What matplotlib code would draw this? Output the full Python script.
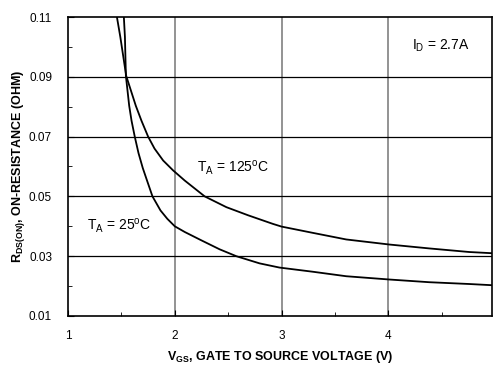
import matplotlib
matplotlib.use("Agg")
import matplotlib.pyplot as plt
from matplotlib.ticker import MultipleLocator, FixedLocator

plt.rcParams['font.family'] = ['Liberation Sans', 'DejaVu Sans']
plt.rcParams['mathtext.fontset'] = 'custom'
plt.rcParams['mathtext.rm'] = 'Liberation Sans'
plt.rcParams['mathtext.bf'] = 'Liberation Sans:bold'
plt.rcParams['mathtext.it'] = 'Liberation Sans:italic'

# Data
vgs_25 = [1.523, 1.533, 1.542, 1.573, 1.595, 1.625, 1.66, 1.70, 1.74, 1.791, 1.866, 1.93,
          2.0, 2.093, 2.249, 2.42, 2.576, 2.794, 2.98, 3.293, 3.605, 4.01, 4.383, 4.757, 4.97]
rds_25 = [0.110, 0.1033, 0.0903, 0.0803, 0.0753, 0.0700, 0.0645, 0.0595, 0.0553, 0.0500, 0.0453, 0.0425,
          0.0400, 0.0381, 0.0353, 0.0323, 0.0300, 0.0276, 0.0262, 0.0248, 0.0233, 0.0222, 0.0213, 0.0207, 0.0203]
vgs_125 = [1.458, 1.49, 1.545, 1.635, 1.688, 1.75, 1.81, 1.891, 1.984, 2.093, 2.28, 2.483,
           2.685, 2.919, 3.0, 3.293, 3.605, 4.01, 4.383, 4.757, 4.97]
rds_125 = [0.110, 0.1033, 0.0903, 0.0803, 0.0753, 0.0700, 0.0660, 0.0620, 0.0587, 0.0553, 0.0500, 0.0464,
           0.0437, 0.0408, 0.0399, 0.0378, 0.0356, 0.0339, 0.0326, 0.0314, 0.0310]

x_ticks = [1, 2, 3, 4]
y_ticks = [0.01, 0.03, 0.05, 0.07, 0.09, 0.11]

W, H = 493, 366
fig = plt.figure(figsize=(W / 100, H / 100), dpi=100)
ax = fig.add_axes([68 / W, (H - 316) / H, (492 - 68) / W, (316 - 17) / H])

ax.set_xlim(1, 4.97)
ax.set_ylim(0.01, 0.11)

ax.plot(vgs_25, rds_25, color='black', lw=1.3, solid_joinstyle='round')
ax.plot(vgs_125, rds_125, color='black', lw=1.3, solid_joinstyle='round')

ax.xaxis.set_major_locator(FixedLocator(x_ticks))
ax.yaxis.set_major_locator(FixedLocator(y_ticks))
ax.xaxis.set_minor_locator(MultipleLocator(0.5))
ax.yaxis.set_minor_locator(MultipleLocator(0.01))
ax.set_xticklabels([str(v) for v in x_ticks])
ax.set_yticklabels([f"{v:.2f}" for v in y_ticks])

for v in [2, 3, 4]:
    ax.axvline(v, color='#808080', lw=1.2, zorder=1)
for v in [0.03, 0.05, 0.07, 0.09]:
    ax.axhline(v, color='black', lw=0.9, zorder=1)

ax.tick_params(which='both', direction='in', labelsize=8.5, color='black')
ax.tick_params(which='major', length=4)
ax.tick_params(which='minor', length=3)
ax.tick_params(axis='x', pad=10)
ax.tick_params(axis='y', pad=11.5)
for s in ax.spines.values():
    s.set_linewidth(1.2)

ax.set_xlabel(r"V$_{\mathbf{GS}}$, GATE TO SOURCE VOLTAGE (V)", fontsize=9, fontweight='bold', labelpad=5)
ax.set_ylabel(r"R$_{\mathbf{DS(ON)}}$, ON-RESISTANCE (OHM)", fontsize=9, fontweight='bold', labelpad=1.5)

ax.text(2.21, 0.0597, r"T$_{\mathrm{A}}$ = 125$^{\mathrm{o}}$C", fontsize=10, va='center', ha='left')
ax.text(1.18, 0.0403, r"T$_{\mathrm{A}}$ = 25$^{\mathrm{o}}$C", fontsize=10, va='center', ha='left')
ax.text(4.22, 0.1003, r"I$_{\mathrm{D}}$ = 2.7A", fontsize=10, va='center', ha='left')

fig.savefig("out.png", dpi=100)
